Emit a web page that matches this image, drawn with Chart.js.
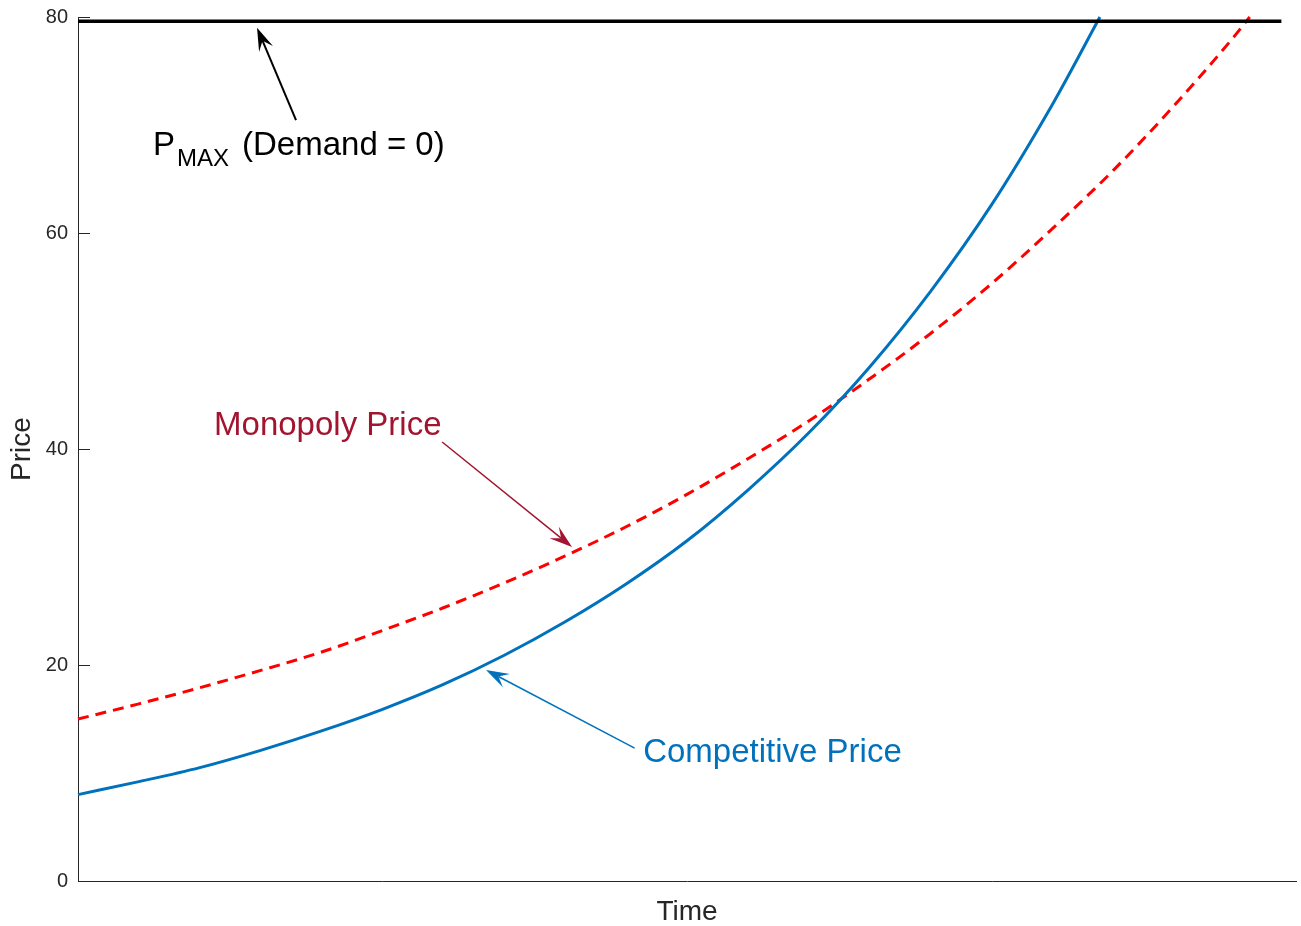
<!DOCTYPE html>
<html>
<head>
<meta charset="utf-8">
<script src="https://cdn.jsdelivr.net/npm/chart.js@4.4.0/dist/chart.umd.min.js"></script>
<style>
html, body { margin: 0; padding: 0; background: #fff; }
#wrap { width: 1301px; height: 926px; }
</style>
</head>
<body>
<div id="wrap"><canvas id="priceChart" width="1301" height="926"></canvas></div>
<script>
// Werte (Zeit auf 0..100 normiert)
const competitiveTime = [0, 5, 10, 15, 20, 25, 30, 35, 40, 45, 50, 55, 60, 65, 70, 75, 80, 83.9];
const competitivePrice = [8, 9.2, 10.5, 12.1, 13.9, 15.9, 18.2, 20.9, 24.0, 27.5, 31.5, 36.2, 41.5, 47.6, 54.6, 62.6, 71.9, 80];

const monopolyTime = [0, 5, 10, 15, 20, 25, 30, 35, 40, 45, 50, 55, 60, 65, 70, 75, 80, 85, 90, 95, 96.2];
const monopolyPrice = [15, 16.4, 17.9, 19.5, 21.2, 23.2, 25.3, 27.6, 30.1, 32.8, 35.8, 39.1, 42.6, 46.5, 50.7, 55.3, 60.4, 65.8, 71.8, 78.3, 80];

const pmaxTime = [0, 98.8];
const pmaxPrice = [79.6, 79.6];

const yTicks = [0, 20, 40, 60, 80];

const axisColor = '#262626';
const blue = '#0072BD';
const darkRed = '#A2142F';
const font = '"Liberation Sans", Arial, Helvetica, sans-serif';

function toPoints(xs, ys) {
    return xs.map((x, i) => ({ x: x, y: ys[i] }));
}

// Pfeil im MATLAB-Stil (Spitze mit Kerbe)
function drawArrow(ctx, x1, y1, x2, y2, color, lw) {
    const dx = x2 - x1, dy = y2 - y1;
    const len = Math.hypot(dx, dy);
    const ux = dx / len, uy = dy / len;
    const px = -uy, py = ux;
    const L = 23, W = 7.5, N = 14;
    ctx.save();
    ctx.strokeStyle = color;
    ctx.fillStyle = color;
    ctx.lineWidth = lw;
    ctx.beginPath();
    ctx.moveTo(x1, y1);
    ctx.lineTo(x2 - ux * N, y2 - uy * N);
    ctx.stroke();
    ctx.beginPath();
    ctx.moveTo(x2, y2);
    ctx.lineTo(x2 - ux * L + px * W, y2 - uy * L + py * W);
    ctx.lineTo(x2 - ux * N, y2 - uy * N);
    ctx.lineTo(x2 - ux * L - px * W, y2 - uy * L - py * W);
    ctx.closePath();
    ctx.fill();
    ctx.restore();
}

const annotations = {
    id: 'annotations',
    afterDraw(chart) {
        const ctx = chart.ctx;
        const xs = chart.scales.x, ys = chart.scales.y;
        const X = v => xs.getPixelForValue(v);
        const Y = v => ys.getPixelForValue(v);

        // Tick-Striche nach innen
        ctx.save();
        ctx.strokeStyle = axisColor;
        ctx.lineWidth = 1;
        const left = chart.chartArea.left;
        yTicks.forEach(t => {
            const y = Math.round(Y(t)) + 0.5;
            ctx.beginPath();
            ctx.moveTo(left, y);
            ctx.lineTo(left + 12, y);
            ctx.stroke();
        });
        ctx.restore();

        ctx.save();
        ctx.textBaseline = 'alphabetic';
        ctx.textAlign = 'left';

        // P_MAX
        const px = X(6.16), py = Y(67.2);
        ctx.fillStyle = '#000';
        ctx.font = '33px ' + font;
        ctx.fillText('P', px, py);
        ctx.font = '24px ' + font;
        ctx.fillText('MAX', px + 24, py + 11);
        ctx.font = '33px ' + font;
        ctx.fillText('(Demand = 0)', px + 89, py);
        drawArrow(ctx, X(17.9), Y(70.46), X(14.7), Y(79.0), '#000', 2);

        // Monopolpreis
        ctx.fillStyle = darkRed;
        ctx.font = '33px ' + font;
        ctx.fillText('Monopoly Price', X(11.17), Y(41.3));
        drawArrow(ctx, X(29.9), Y(40.65), X(40.56), Y(30.93), darkRed, 1.5);

        // Wettbewerbspreis
        ctx.fillStyle = blue;
        ctx.fillText('Competitive Price', X(46.4), Y(11.02));
        drawArrow(ctx, X(45.7), Y(12.3), X(33.5), Y(19.54), blue, 1.5);
        ctx.restore();
    }
};

const ctx = document.getElementById('priceChart');
new Chart(ctx, {
    type: 'line',
    data: {
        datasets: [{
            label: 'PMAX',
            data: toPoints(pmaxTime, pmaxPrice),
            borderColor: '#000',
            borderWidth: 3.5,
            pointRadius: 0,
            clip: false
        }, {
            label: 'Competitive Price',
            data: toPoints(competitiveTime, competitivePrice),
            borderColor: blue,
            borderWidth: 3,
            pointRadius: 0,
            cubicInterpolationMode: 'monotone',
            clip: false
        }, {
            label: 'Monopoly Price',
            data: toPoints(monopolyTime, monopolyPrice),
            borderColor: '#FF0000',
            borderWidth: 3,
            borderDash: [11, 7],
            pointRadius: 0,
            cubicInterpolationMode: 'monotone',
            clip: false
        }]
    },
    options: {
        responsive: false,
        animation: false,
        devicePixelRatio: 1,
        layout: { padding: { top: 17, right: 5, left: 0, bottom: 0 } },
        plugins: { legend: { display: false }, tooltip: { enabled: false } },
        scales: {
            x: {
                type: 'linear',
                min: 0,
                max: 100,
                grid: { display: false, drawTicks: false },
                border: { display: true, color: axisColor, width: 1 },
                ticks: { display: false },
                title: {
                    display: true,
                    text: 'Time',
                    color: axisColor,
                    font: { family: font, size: 28, lineHeight: 0.8 },
                    padding: { top: 0, bottom: 3 }
                },
                afterFit(scale) { scale.height = 45; }
            },
            y: {
                min: 0,
                max: 80,
                grid: { display: false, drawTicks: false },
                border: { display: true, color: axisColor, width: 1 },
                afterBuildTicks(scale) { scale.ticks = yTicks.map(v => ({ value: v })); },
                ticks: {
                    color: axisColor,
                    font: { family: font, size: 20, lineHeight: 0.6 },
                    padding: 10
                },
                title: {
                    display: true,
                    text: 'Price',
                    color: axisColor,
                    font: { family: font, size: 28 },
                    padding: { top: 5, bottom: 0 }
                },
                afterFit(scale) { scale.width = 78; }
            }
        }
    },
    plugins: [annotations]
});
</script>
</body>
</html>
